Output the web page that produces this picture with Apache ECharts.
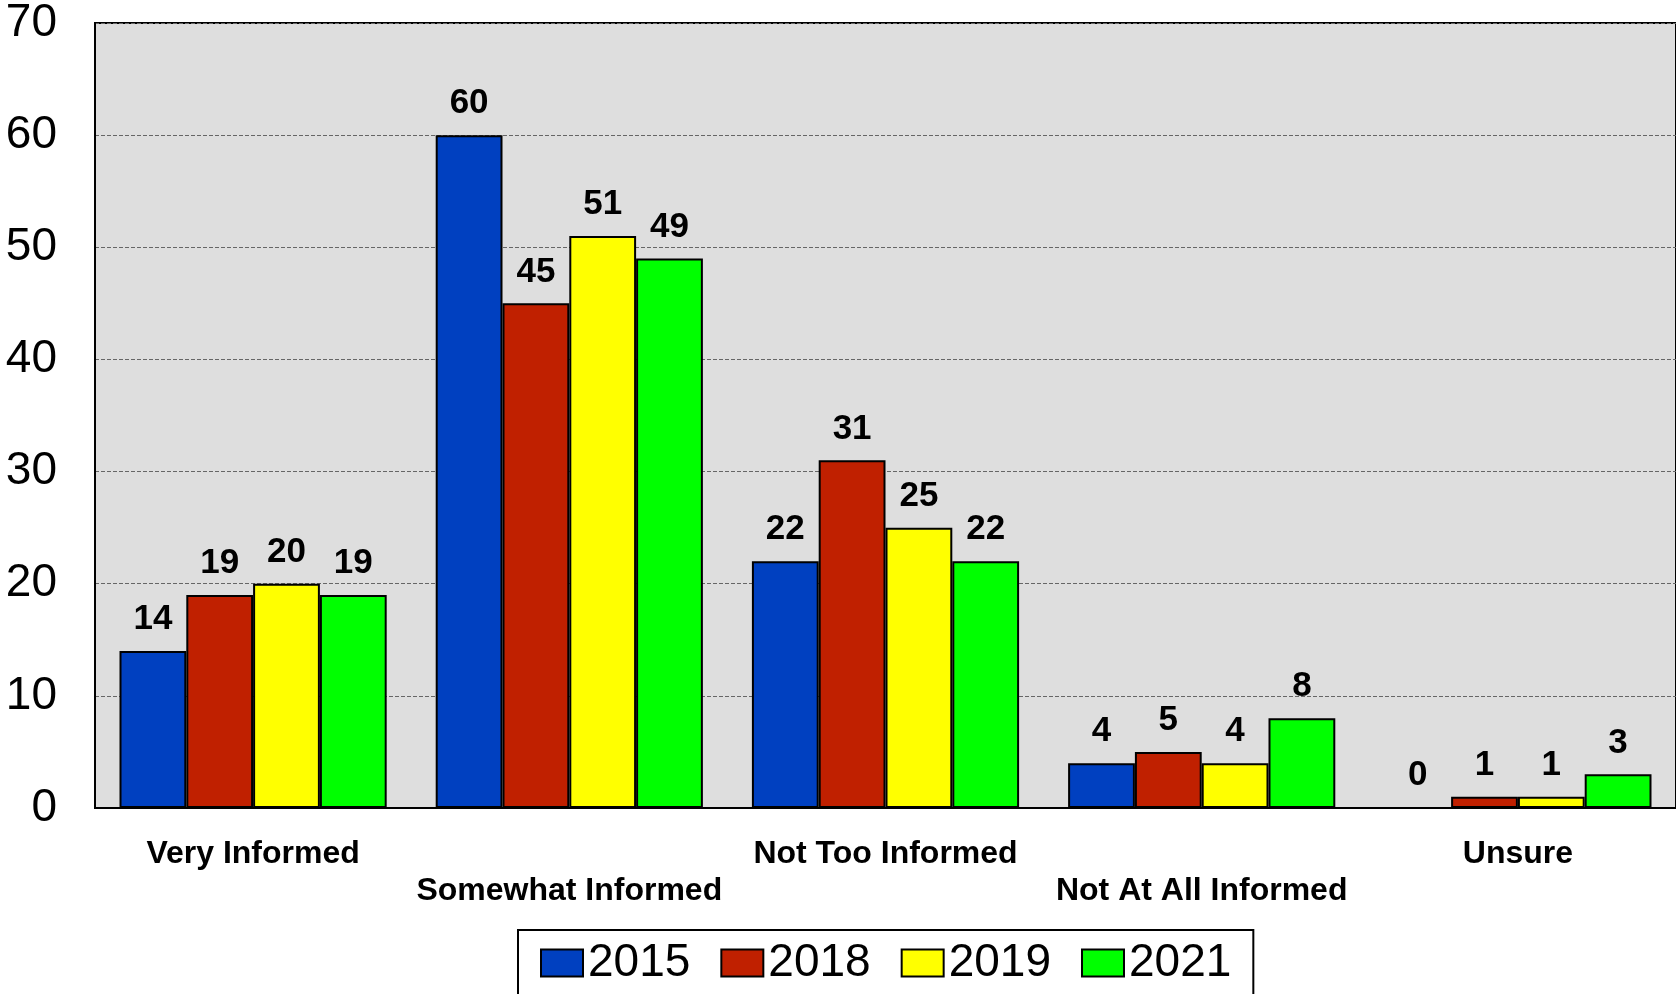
<!DOCTYPE html>
<html>
<head>
<meta charset="utf-8">
<script src="https://cdn.jsdelivr.net/npm/echarts@6/dist/echarts.min.js"></script>
<style>
html,body{margin:0;padding:0;background:#fff;}
#main{width:1676px;height:994px;}
</style>
</head>
<body>
<div id="main"></div>
<script>
const categories = ['Very Informed', 'Somewhat Informed', 'Not Too Informed', 'Not At All Informed', 'Unsure'];
const seriesNames = ['2015', '2018', '2019', '2021'];
const values2015 = [14, 60, 22, 4, 0];
const values2018 = [19, 45, 31, 5, 1];
const values2019 = [20, 51, 25, 4, 1];
const values2021 = [19, 49, 22, 8, 3];
const yTicks = [0, 10, 20, 30, 40, 50, 60, 70];

const colors = ['#0040C0', '#C02000', '#FFFF00', '#00FF00'];
const allValues = [values2015, values2018, values2019, values2021];
const FONT = '"Liberation Sans", Arial, sans-serif';

const chart = echarts.init(document.getElementById('main'), null, {renderer: 'canvas'});
chart.setOption({
  animation: false,
  backgroundColor: '#ffffff',
  grid: {
    left: 95, right: 0, top: 22, bottom: 186,
    show: true, backgroundColor: '#DEDEDE', borderColor: '#000', borderWidth: 2
  },
  legend: {
    data: seriesNames,
    bottom: -10,
    left: 518,
    padding: [10, 22, 18, 22],
    icon: 'rect',
    itemWidth: 42,
    itemHeight: 27,
    itemGap: 30,
    borderColor: '#000',
    borderWidth: 2,
    backgroundColor: '#fff',
    textStyle: {fontFamily: FONT, fontSize: 46, color: '#000'},
    itemStyle: {borderColor: '#000', borderWidth: 2}
  },
  xAxis: {
    type: 'category',
    data: categories,
    axisLine: {lineStyle: {color: '#000', width: 2}},
    axisTick: {show: false},
    axisLabel: {
      interval: 0,
      margin: 28,
      fontFamily: FONT,
      fontWeight: 'bold',
      fontSize: 32,
      color: '#000',
      lineHeight: 37,
      formatter: function (v, i) { return i % 2 === 1 ? '\n' + v : v; }
    }
  },
  yAxis: {
    type: 'value',
    min: yTicks[0],
    max: yTicks[yTicks.length - 1],
    interval: 10,
    axisLine: {show: true, lineStyle: {color: '#000', width: 2}},
    axisTick: {show: false},
    axisLabel: {fontFamily: FONT, fontSize: 46, color: '#000', margin: 38},
    splitLine: {show: true, lineStyle: {color: '#666', type: 'dashed', width: 1}}
  },
  series: seriesNames.map((name, i) => ({
    name: name,
    type: 'bar',
    data: allValues[i],
    barGap: '0%',
    barCategoryGap: '15.5%',
    itemStyle: {color: colors[i], borderColor: '#000', borderWidth: 2},
    label: {
      show: true,
      position: 'top',
      distance: 14,
      fontFamily: FONT,
      fontWeight: 'bold',
      fontSize: 35,
      color: '#000'
    }
  }))
});
</script>
</body>
</html>
